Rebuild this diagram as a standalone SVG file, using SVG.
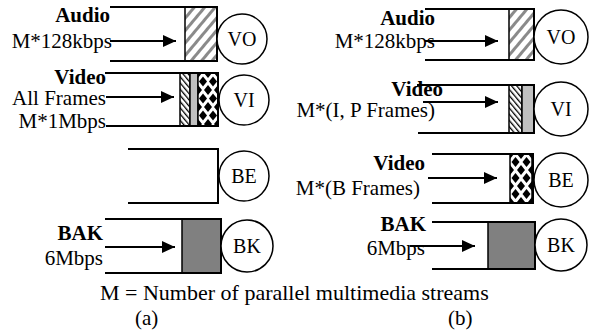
<svg xmlns="http://www.w3.org/2000/svg" width="589" height="336" viewBox="0 0 589 336">
<style>
.q{fill:none;stroke:#000;stroke-width:2}
.b{stroke:#000;stroke-width:1.5}
.c{fill:#fff;stroke:#000;stroke-width:1.5}
.t{font-family:"Liberation Serif","Times New Roman",serif;font-size:21px;fill:#000}
.bd{font-weight:bold}
.e{text-anchor:end}
.ct{font-family:"Liberation Serif","Times New Roman",serif;font-size:20px;fill:#000;text-anchor:middle}
.a{stroke:#000;stroke-width:2;fill:none;marker-end:url(#ah)}
.dm{fill:#000}
</style>
<defs>
<marker id="ah" markerUnits="userSpaceOnUse" markerWidth="14" markerHeight="12" refX="13" refY="6" orient="auto">
<path d="M0,0 L13,6 L0,12 Z" fill="#000"/>
</marker>
<pattern id="hs" patternUnits="userSpaceOnUse" width="8" height="8" patternTransform="rotate(40)">
<rect width="8" height="8" fill="#fff"/>
<rect x="0" y="0" width="3" height="8" fill="#8a8a8a"/>
</pattern>
<pattern id="hb" patternUnits="userSpaceOnUse" width="4" height="4" patternTransform="rotate(-40)">
<rect width="4" height="4" fill="#fff"/>
<rect x="0" y="0" width="1.3" height="4" fill="#000"/>
</pattern>
<pattern id="ck" patternUnits="userSpaceOnUse" x="198" y="73" width="10" height="17">
<rect width="10" height="17" fill="#fff"/>
<path class="dm" d="M5,3.5 L9,8.5 L5,13.5 L1,8.5 Z"/>
<path class="dm" d="M0,-5 L4,0 L0,5 L-4,0 Z M10,-5 L14,0 L10,5 L6,0 Z M0,12 L4,17 L0,22 L-4,17 Z M10,12 L14,17 L10,22 L6,17 Z"/>
</pattern>
<pattern id="ck2" patternUnits="userSpaceOnUse" x="510" y="154" width="11" height="16">
<rect width="11" height="16" fill="#fff"/>
<path class="dm" d="M5.5,3 L9.5,8 L5.5,13 L1.5,8 Z"/>
<path class="dm" d="M0,-5 L4,0 L0,5 L-4,0 Z M11,-5 L15,0 L11,5 L7,0 Z M0,11 L4,16 L0,21 L-4,16 Z M11,11 L15,16 L11,21 L7,16 Z"/>
</pattern>
</defs>
<g id="connectors">
<line class="a" x1="110" y1="41" x2="176" y2="41"/>
<line class="a" x1="106" y1="97" x2="174" y2="97"/>
<line class="a" x1="105" y1="247" x2="175" y2="247"/>
<line class="a" x1="425" y1="41" x2="498" y2="41"/>
<line class="a" x1="423" y1="102" x2="498" y2="102"/>
<line class="a" x1="428" y1="178" x2="497" y2="178"/>
<line class="a" x1="410" y1="246" x2="475" y2="246"/>
</g>
<g id="a-vo">
<rect x="185" y="7" width="32" height="54" fill="url(#hs)" class="b"/>
<path class="q" d="M110,7 H217 V61 H110"/>
<circle class="c" cx="242" cy="39" r="25"/>
<text class="ct" x="242" y="46">VO</text>
<text class="t bd e" x="110" y="22">Audio</text>
<text class="t e" x="112" y="48">M*128kbps</text>
</g>
<g id="a-vi">
<rect x="180" y="73" width="10" height="53" fill="url(#hb)" class="b"/>
<rect x="190" y="73" width="8" height="53" fill="#c0c0c0" class="b"/>
<rect x="198" y="73" width="20" height="53" fill="url(#ck)" class="b"/>
<path class="q" d="M105,73 H218 V126 H106"/>
<circle class="c" cx="244" cy="100" r="25"/>
<text class="ct" x="244" y="107">VI</text>
<text class="t bd e" x="106" y="84">Video</text>
<text class="t e" x="106" y="105">All Frames</text>
<text class="t e" x="106" y="128">M*1Mbps</text>
</g>
<g id="a-be">
<path class="q" d="M128,149 H218 V203 H128"/>
<circle class="c" cx="244" cy="176" r="25"/>
<text class="ct" x="244" y="183">BE</text>
</g>
<g id="a-bk">
<rect x="182" y="219" width="39" height="54" fill="#808080" class="b"/>
<path class="q" d="M105,219 H221 V273 H105"/>
<circle class="c" cx="247" cy="246" r="26"/>
<text class="ct" x="247" y="253">BK</text>
<text class="t bd e" x="103" y="240">BAK</text>
<text class="t e" x="103" y="265">6Mbps</text>
</g>
<g id="b-vo">
<rect x="509" y="9" width="25" height="51" fill="url(#hs)" class="b"/>
<path class="q" d="M425,9 H534 V60 H425"/>
<circle class="c" cx="561" cy="37" r="27"/>
<text class="ct" x="561" y="44">VO</text>
<text class="t bd e" x="435" y="25">Audio</text>
<text class="t e" x="435" y="48">M*128kbps</text>
</g>
<g id="b-vi">
<rect x="509" y="85" width="13" height="48" fill="url(#hb)" class="b"/>
<rect x="522" y="85" width="12" height="48" fill="#c0c0c0" class="b"/>
<path class="q" d="M417,85 H534 V133 H418"/>
<circle class="c" cx="561" cy="109" r="27"/>
<text class="ct" x="561" y="116">VI</text>
<text class="t bd e" x="443" y="96">Video</text>
<text class="t e" x="435" y="117">M*(I, P Frames)</text>
</g>
<g id="b-be">
<rect x="510" y="154" width="22" height="49" fill="url(#ck2)" class="b"/>
<path class="q" d="M432,154 H533 V203 H432"/>
<circle class="c" cx="561" cy="180" r="27"/>
<text class="ct" x="561" y="187">BE</text>
<text class="t bd e" x="425" y="170">Video</text>
<text class="t e" x="420" y="195">M*(B Frames)</text>
</g>
<g id="b-bk">
<rect x="488" y="222" width="47" height="47" fill="#808080" class="b"/>
<path class="q" d="M432,222 H535 V269 H432"/>
<circle class="c" cx="561" cy="245" r="26"/>
<text class="ct" x="561" y="252">BK</text>
<text class="t bd e" x="426" y="231">BAK</text>
<text class="t e" x="425" y="255">6Mbps</text>
</g>
<g id="caption">
<text class="t" x="100" y="300" style="font-size:22px">M = Number of parallel multimedia streams</text>
<text class="t" x="135" y="325">(a)</text>
<text class="t" x="448" y="325">(b)</text>
</g>
</svg>
